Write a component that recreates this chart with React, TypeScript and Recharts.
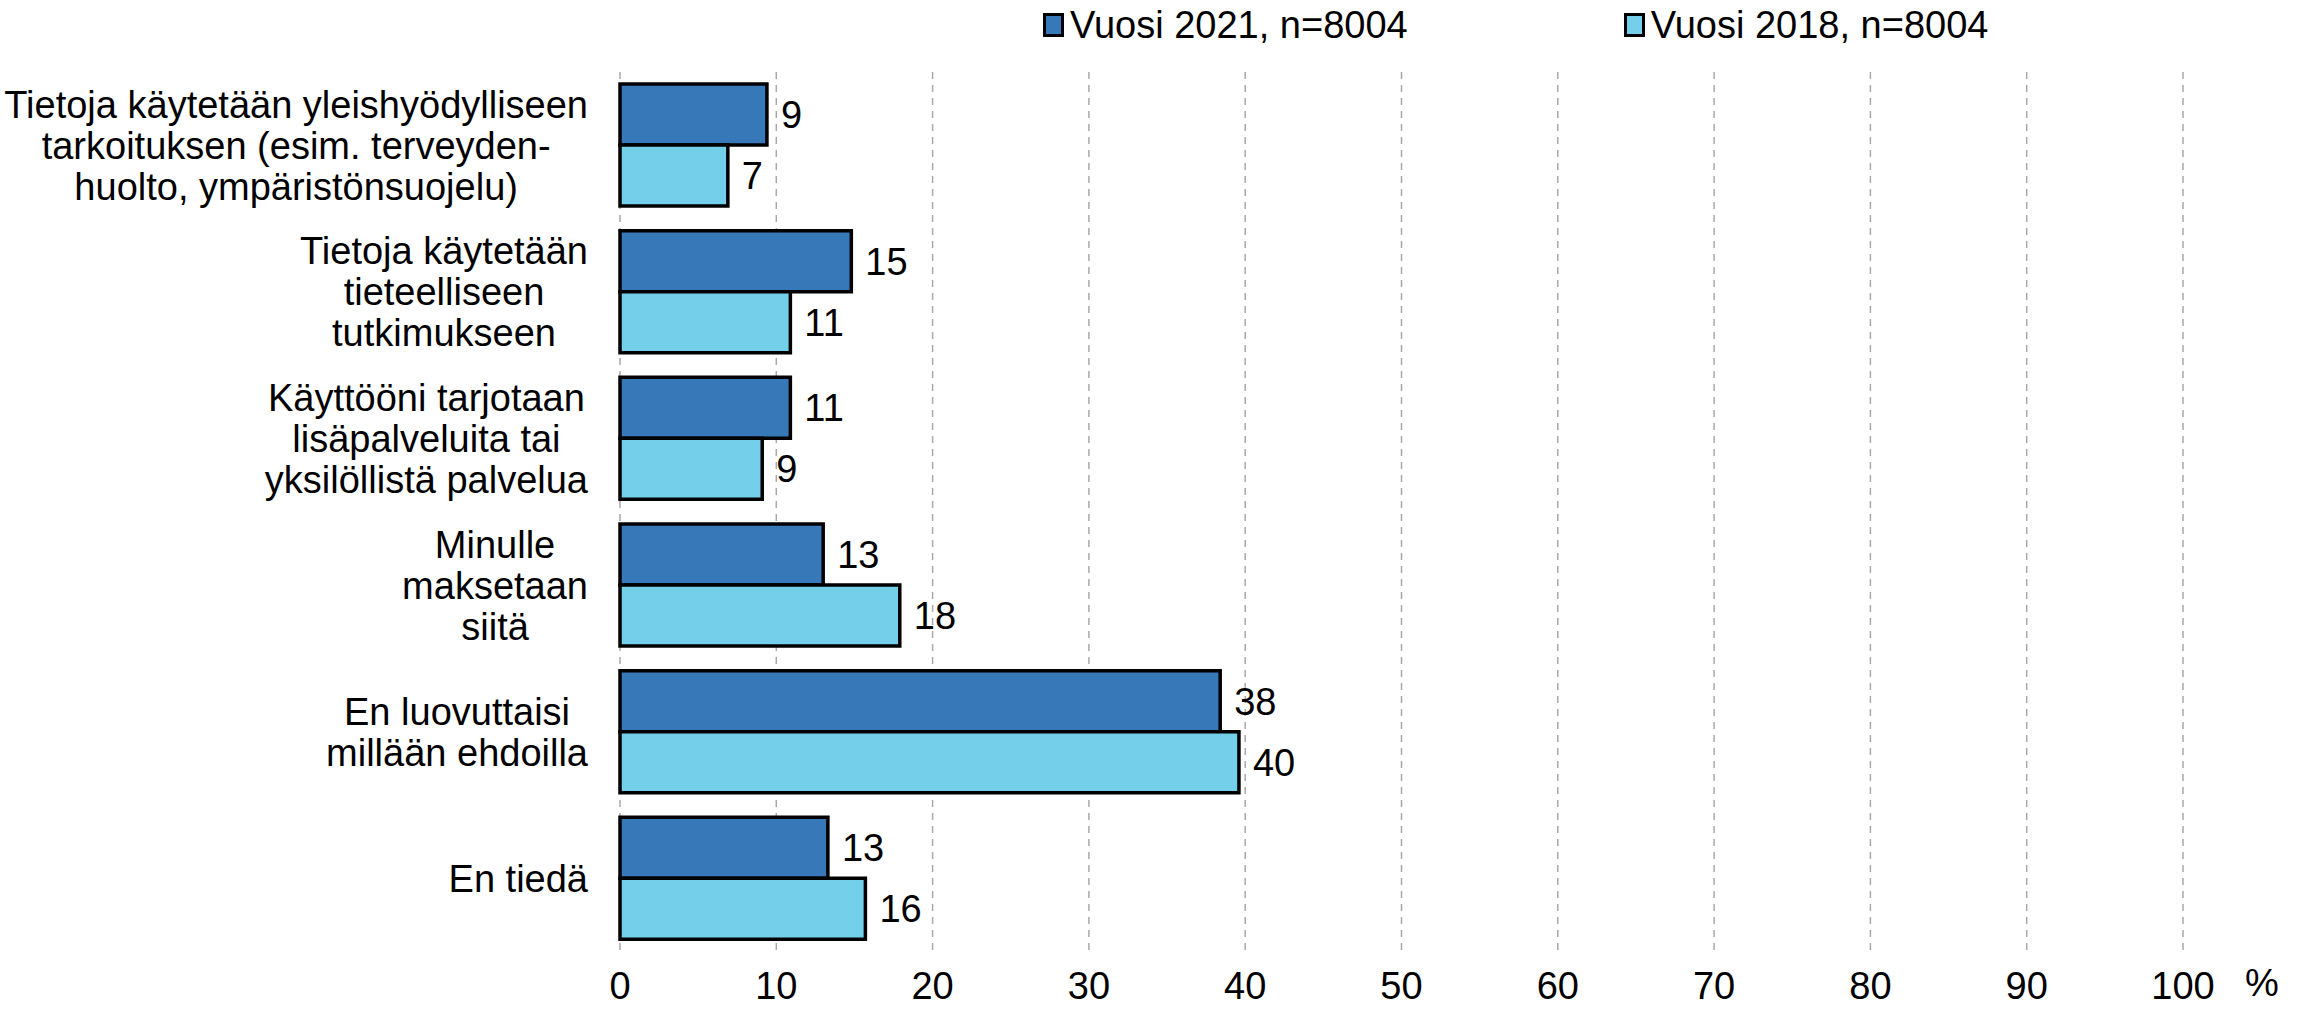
import React from "react";
import {
  BarChart,
  Bar,
  XAxis,
  YAxis,
  CartesianGrid,
  LabelList,
  Label,
} from "recharts";

const FONT = '"Liberation Sans", Arial, sans-serif';
const FS = 38;
const LINE_H = 41;

const categories = [
  "Tietoja käytetään yleishyödylliseen\ntarkoituksen (esim. terveyden-\nhuolto, ympäristönsuojelu)",
  "Tietoja käytetään\ntieteelliseen\ntutkimukseen",
  "Käyttööni tarjotaan\nlisäpalveluita tai\nyksilöllistä palvelua",
  "Minulle\nmaksetaan\nsiitä",
  "En luovuttaisi\nmillään ehdoilla",
  "En tiedä",
];

const values2021 = [9.4, 14.8, 10.9, 13.0, 38.4, 13.3];
const values2018 = [6.9, 10.9, 9.1, 17.9, 39.6, 15.7];

const seriesNames = ["Vuosi 2021, n=8004", "Vuosi 2018, n=8004"];
const seriesColors = ["#3778B9", "#74CFEA"];

const xTicks = [0, 10, 20, 30, 40, 50, 60, 70, 80, 90, 100];

const data = categories.map((c, i) => ({
  name: c,
  v2021: values2021[i],
  v2018: values2018[i],
}));

let measureCtx: CanvasRenderingContext2D | null = null;
function textWidth(s: string) {
  if (!measureCtx) measureCtx = document.createElement("canvas").getContext("2d");
  if (!measureCtx) return s.length * FS * 0.5;
  measureCtx.font = `${FS}px ${FONT}`;
  return measureCtx.measureText(s).width;
}

// Excel-style: block right-aligned, lines centered inside it
function CategoryTick({ x, y, payload }: any) {
  const lines = String(payload.value).split("\n");
  const block = Math.max(...lines.map(textWidth));
  const cx = x - 24 - block / 2;
  const y0 = y - ((lines.length - 1) * LINE_H) / 2;
  return (
    <g>
      {lines.map((l, i) => (
        <text
          key={i}
          x={cx}
          y={y0 + i * LINE_H}
          dy="0.35em"
          textAnchor="middle"
          fontSize={FS}
          fill="#000"
        >
          {l}
        </text>
      ))}
    </g>
  );
}

function ChartLegend() {
  return (
    <div
      style={{
        position: "absolute",
        top: 5,
        left: 1043,
        display: "flex",
        gap: 216,
        fontSize: FS,
        lineHeight: "40px",
        color: "#000",
      }}
    >
      {seriesNames.map((n, i) => (
        <div key={n} style={{ display: "flex", alignItems: "center" }}>
          <span
            style={{
              display: "inline-block",
              width: 15,
              height: 18,
              background: seriesColors[i],
              border: "3px solid #000",
              marginRight: 6,
            }}
          />
          <span>{n}</span>
        </div>
      ))}
    </div>
  );
}

export default function App() {
  return (
    <div
      style={{
        position: "absolute",
        left: 0,
        top: 0,
        width: 2303,
        height: 1010,
        background: "#fff",
        fontFamily: FONT,
      }}
    >
      <ChartLegend />
      <BarChart
        width={2303}
        height={1010}
        data={data}
        layout="vertical"
        margin={{ top: 72, right: 120, bottom: 0, left: 0 }}
        barCategoryGap={12}
        barGap={0}
      >
        <CartesianGrid
          horizontal={false}
          strokeDasharray="7 6"
          stroke="#A9A9A9"
          strokeWidth={1.5}
        />
        <XAxis
          type="number"
          domain={[0, 100]}
          ticks={xTicks}
          interval={0}
          axisLine={false}
          tickLine={false}
          tickMargin={14}
          height={58}
          tick={{ fontSize: FS, fill: "#000" }}
        >
          <Label
            value="%"
            position="right"
            offset={62}
            dy={2}
            style={{ fontSize: FS, fill: "#000" }}
          />
        </XAxis>
        <YAxis
          type="category"
          dataKey="name"
          width={620}
          axisLine={false}
          tickLine={false}
          interval={0}
          tick={<CategoryTick />}
        />
        <Bar
          dataKey="v2021"
          name={seriesNames[0]}
          fill={seriesColors[0]}
          stroke="#000"
          strokeWidth={3.5}
          isAnimationActive={false}
        >
          <LabelList
            dataKey="v2021"
            position="right"
            offset={14}
            formatter={(v: number) => Math.round(v)}
            style={{ fontSize: FS, fill: "#000" }}
          />
        </Bar>
        <Bar
          dataKey="v2018"
          name={seriesNames[1]}
          fill={seriesColors[1]}
          stroke="#000"
          strokeWidth={3.5}
          isAnimationActive={false}
        >
          <LabelList
            dataKey="v2018"
            position="right"
            offset={14}
            formatter={(v: number) => Math.round(v)}
            style={{ fontSize: FS, fill: "#000" }}
          />
        </Bar>
      </BarChart>
    </div>
  );
}
